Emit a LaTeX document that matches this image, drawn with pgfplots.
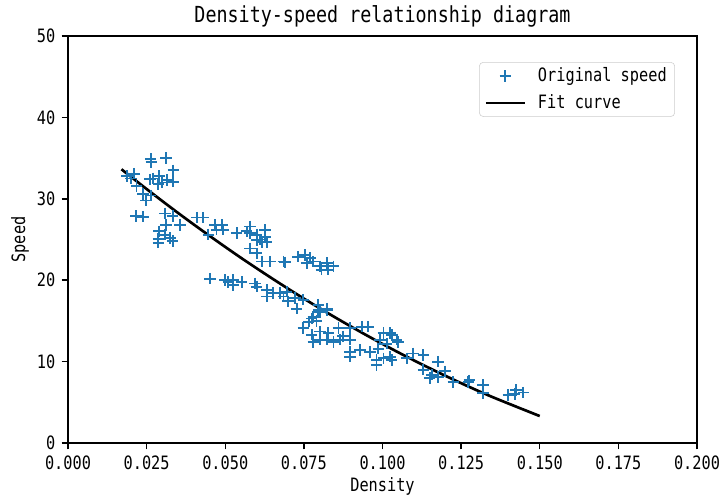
\documentclass[border=0pt]{standalone}
\usepackage{fontspec}
\setmainfont[FakeStretch=0.83]{DejaVu Sans Mono}
\usepackage{pgfplots}
\pgfplotsset{compat=1.18}
\definecolor{mplblue}{HTML}{1F77B4}
\pgfplotsset{
  markleg/.style={legend image code/.code={\path[draw=none] (0pt,0pt) -- (37pt,0pt);\draw[##1] plot[only marks] coordinates {(14.5pt,0pt)};}},
  lineleg/.style={legend image code/.code={\path[draw=none] (0pt,0pt) -- (37pt,0pt);\draw[##1] (0pt,0pt) -- (29pt,0pt);}},
}
\begin{document}
\fontsize{13.8}{16}\selectfont
\begin{tikzpicture}
\useasboundingbox (-51pt,-40.5pt) rectangle (489.75pt,332.25pt);
\begin{axis}[
  at={(0pt,0pt)}, anchor=south west,
  scale only axis,
  width=471.75pt, height=305.25pt,
  xmin=0, xmax=0.2, ymin=0, ymax=50,
  xtick={0,0.025,0.05,0.075,0.1,0.125,0.15,0.175,0.2},
  ytick={0,10,20,30,40,50},
  scaled x ticks=false,
  xticklabel style={/pgf/number format/fixed,/pgf/number format/fixed zerofill,/pgf/number format/precision=3},
  /pgf/number format/assume math mode=true,
  tick align=outside, tick pos=left,
  major tick length=4.8pt,
  every tick/.style={black, line width=1.1pt},
  axis line style={line width=1.1pt},
  ticklabel style={font=\fontsize{13.8}{16}\selectfont},
  title={Density-speed relationship diagram},
  title style={font=\fontsize{16.6}{19}\selectfont, at={(axis description cs:0.5,1.049)}, anchor=center, yshift=-6pt},
  xlabel={Density}, ylabel={Speed},
  xlabel style={font=\fontsize{13.8}{16}\selectfont, at={(axis description cs:0.5,-0.1057)}, anchor=center},
  ylabel style={font=\fontsize{13.8}{16}\selectfont, at={(axis description cs:-0.0763,0.5)}, anchor=center, rotate=0},
  legend style={at={(axis description cs:0.965,0.936)}, anchor=north east, draw=black!20, rounded corners=3pt,
    inner xsep=4pt, inner ysep=2pt, font=\fontsize{13.8}{16}\selectfont, row sep=3.5pt},
  legend cell align=left,
]
\addplot[only marks, mark=+, mark size=4.3pt, mplblue, line width=1.4pt, markleg]
coordinates {
(0.0187,32.8)(0.0210,33.1)(0.0218,31.6)(0.0239,30.6)(0.0248,29.8)(0.0263,30.4)(0.0261,32.4)(0.0263,34.9)
(0.0312,35.0)(0.0290,32.8)(0.0287,31.8)(0.0314,32.3)(0.0335,33.5)(0.0335,32.1)(0.0300,32.0)(0.0216,27.9)
(0.0239,27.8)(0.0308,28.2)(0.0333,27.9)(0.0356,26.8)(0.0312,26.8)(0.0290,26.0)(0.0324,25.2)(0.0287,24.6)
(0.0308,25.6)(0.0287,25.1)(0.0333,24.8)(0.0265,34.5)(0.0270,32.5)(0.0200,32.5)
(0.0409,27.7)(0.0430,27.7)(0.0446,25.6)(0.0467,26.8)(0.0489,26.8)(0.0472,26.2)(0.0493,26.2)(0.0536,25.8)
(0.0579,26.6)(0.0579,25.8)(0.0600,25.6)(0.0626,26.2)(0.0626,25.3)(0.0600,24.9)(0.0616,24.7)(0.0632,24.7)
(0.0579,23.9)(0.0600,23.3)(0.0616,22.3)(0.0642,22.3)(0.0685,22.3)(0.0690,22.2)(0.0732,22.9)(0.0754,23.1)
(0.0769,22.7)(0.0759,22.1)(0.0780,22.3)(0.0801,21.7)(0.0823,22.1)(0.0828,21.3)(0.0844,21.7)(0.0806,21.3)
(0.0568,26.0)(0.0610,25.0)
(0.0452,20.2)(0.0499,20.0)(0.0510,19.8)(0.0526,20.0)(0.0552,19.8)(0.0526,19.4)(0.0595,19.6)(0.0600,19.2)
(0.0632,18.8)(0.0632,18.0)(0.0653,18.4)(0.0674,18.4)(0.0695,18.6)(0.0685,18.0)(0.0700,17.4)(0.0722,17.8)
(0.0727,16.5)(0.0748,17.6)(0.0796,17.0)(0.0801,16.1)(0.0823,16.3)(0.0775,15.3)(0.0780,15.5)(0.0796,16.3)
(0.0823,16.5)(0.0765,14.9)
(0.0748,14.1)(0.0775,13.3)(0.0801,13.7)(0.0828,13.5)(0.0801,12.7)(0.0823,12.7)(0.0844,12.4)(0.0860,14.1)
(0.0875,13.1)(0.0897,14.1)(0.0897,12.7)(0.0934,14.3)(0.0955,14.3)(0.0897,11.2)(0.0897,10.6)(0.0929,11.4)
(0.0960,11.2)(0.0987,11.6)(0.1003,13.5)(0.1024,13.5)(0.0992,12.7)(0.1013,12.2)(0.1045,12.7)(0.0981,10.2)
(0.1003,10.4)(0.0981,9.6)(0.1024,10.6)(0.0780,12.4)(0.0790,15.0)(0.0865,12.7)
(0.1029,13.3)(0.1050,12.4)(0.1029,10.2)(0.1077,10.4)(0.1098,11.0)(0.1130,10.8)(0.1130,9.0)(0.1157,8.4)
(0.1177,10.0)(0.1177,8.1)(0.1199,8.8)(0.1225,7.5)(0.1273,7.5)(0.1276,7.7)(0.1320,7.1)(0.1320,6.1)
(0.1400,5.9)(0.1424,6.5)(0.1448,6.2)(0.1420,6.0)(0.1150,8.0)
};
\addlegendentry{Original speed}
\addplot[black, line width=2pt, smooth, lineleg]
coordinates {
(0.017,33.63)(0.025,31.20)(0.035,28.26)(0.045,25.45)(0.055,22.75)(0.065,20.19)(0.075,17.74)
(0.085,15.42)(0.095,13.22)(0.105,11.14)(0.115,9.19)(0.125,7.35)(0.135,5.64)(0.150,3.31)
};
\addlegendentry{Fit curve}
\end{axis}
\end{tikzpicture}
\end{document}
